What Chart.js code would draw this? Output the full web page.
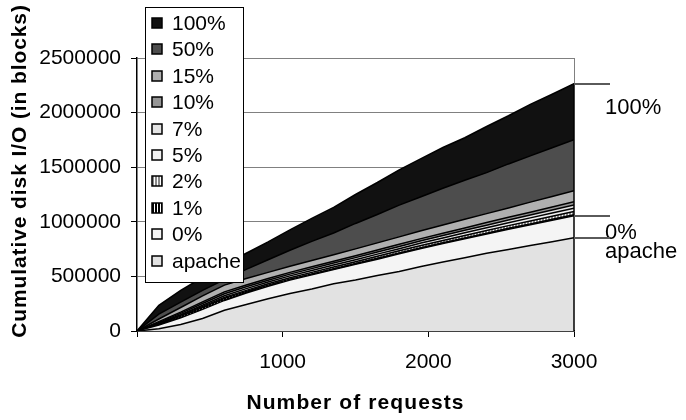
<!DOCTYPE html>
<html>
<head>
<meta charset="utf-8">
<script src="https://cdn.jsdelivr.net/npm/chart.js@4"></script>
<style>
  html, body { margin: 0; padding: 0; background: #fff; }
  canvas { display: block; }
</style>
</head>
<body>
<canvas id="c" width="686" height="420"></canvas>
<script>
// Number of requests served (x values)
const requests = [0,150,300,450,600,750,900,1050,1200,1350,1500,1650,1800,1950,2100,2250,2400,2550,2700,2850,3000];

// Cumulative disk I/O in blocks, one list per configuration
const io100 = [0,235000,372000,492000,605000,712000,816000,926000,1031000,1132000,1250000,1360000,1476000,1578000,1680000,1770000,1873000,1971000,2075000,2168000,2266000];
const io50 = [0,155000,265000,372000,470000,564000,653000,739000,821000,897000,985000,1067000,1153000,1230000,1307000,1381000,1450000,1530000,1604000,1678000,1752000];
const io15 = [0,110000,215000,322000,420000,480000,537000,593000,646000,699000,752000,807000,862000,918000,971000,1023000,1075000,1127000,1180000,1232000,1284000];
const io10 = [0,86000,173000,267000,358000,422000,481000,537000,588000,639000,690000,741000,794000,846000,896000,944000,993000,1041000,1088000,1136000,1183000];
const io7 = [0,79000,161000,252000,341000,405000,465000,521000,571000,622000,672000,723000,774000,826000,874000,922000,969000,1016000,1062000,1109000,1155000];
const io5 = [0,72000,149000,236000,323000,388000,449000,505000,554000,604000,653000,704000,754000,805000,852000,899000,945000,991000,1036000,1081000,1125000];
const io2 = [0,69000,144000,226000,308000,372000,432000,488000,537000,586000,634000,684000,734000,783000,829000,875000,920000,965000,1008000,1051000,1094000];
const io1 = [0,63000,134000,215000,297000,361000,420000,475000,522000,570000,618000,666000,715000,763000,808000,852000,896000,940000,981000,1023000,1064000];
const io0 = [0,55000,120000,198000,280000,348000,410000,466000,514000,562000,610000,658000,707000,755000,800000,844000,888000,931000,972000,1014000,1055000];
const ioApache = [0,20000,60000,115000,190000,242000,295000,344000,385000,432000,468000,509000,545000,591000,631000,670000,712000,746000,782000,817000,853000];

const seriesLabels = ['100%','50%','15%','10%','7%','5%','2%','1%','0%','apache'];
const seriesValues = [io100, io50, io15, io10, io7, io5, io2, io1, io0, ioApache];

// Y axis ticks
const yTicks = [0,500000,1000000,1500000,2000000,2500000];
// X axis ticks
const xTicks = [1000,2000,3000];

const FONT = '"Liberation Sans", Arial, Helvetica, sans-serif';

// vertical-stripe fill used for two of the series
function stripes(bg, fg) {
  const c = document.createElement('canvas');
  c.width = 3; c.height = 4;
  const g = c.getContext('2d');
  g.fillStyle = bg; g.fillRect(0, 0, 3, 4);
  g.fillStyle = fg; g.fillRect(1, 0, 1, 4);
  return g.createPattern(c, 'repeat');
}

const fills = [
  '#111111', '#4d4d4d', '#b0b0b0', '#969696', '#e4e4e4',
  '#f0f0f0', stripes('#8a8a8a', '#ffffff'), stripes('#000000', '#ffffff'),
  '#f4f4f4', '#e2e2e2'
];

const datasets = seriesLabels.map((label, i) => ({
  label,
  data: requests.map((r, k) => ({ x: r, y: seriesValues[i][k] })),
  backgroundColor: fills[i],
  borderColor: '#000',
  borderWidth: 1.5,
  fill: 'origin',
  pointRadius: 0,
  tension: 0,
  order: seriesLabels.length - 1 - i
}));

const decorations = {
  id: 'decorations',
  afterDatasetsDraw(chart) {
    const ctx = chart.ctx;
    const a = chart.chartArea;
    const ys = chart.scales.y;
    const yTop = ys.getPixelForValue(io100[io100.length - 1]);
    ctx.save();
    // right edge of the plot
    ctx.strokeStyle = '#808080'; ctx.lineWidth = 1;
    ctx.beginPath(); ctx.moveTo(a.right + 0.5, a.top); ctx.lineTo(a.right + 0.5, yTop); ctx.stroke();
    ctx.strokeStyle = '#000'; ctx.lineWidth = 1.5;
    ctx.beginPath(); ctx.moveTo(a.right, yTop); ctx.lineTo(a.right, a.bottom); ctx.stroke();

    // series callouts on the right
    const callouts = [
      { v: io100[io100.length - 1], text: '100%', dy: 24 },
      { v: io0[io0.length - 1], text: '0%', dy: 17 },
      { v: ioApache[ioApache.length - 1], text: 'apache', dy: 14 }
    ];
    ctx.strokeStyle = '#5a5a5a'; ctx.lineWidth = 2;
    ctx.fillStyle = '#000';
    ctx.font = '22px ' + FONT;
    ctx.textBaseline = 'middle'; ctx.textAlign = 'left';
    callouts.forEach(c => {
      const y = Math.round(ys.getPixelForValue(c.v));
      ctx.beginPath(); ctx.moveTo(a.right, y); ctx.lineTo(a.right + 36, y); ctx.stroke();
      ctx.fillText(c.text, a.right + 31, y + c.dy);
    });

    // legend box
    const lx = 145, ly = 7, lw = 99, lh = 276;
    ctx.fillStyle = '#fff'; ctx.fillRect(lx, ly, lw, lh);
    ctx.strokeStyle = '#000'; ctx.lineWidth = 1;
    ctx.strokeRect(lx + 0.5, ly + 0.5, lw - 1, lh - 1);
    chart.data.datasets.forEach((ds, i) => {
      const cy = Math.round(23 + i * 26.4);
      ctx.fillStyle = ds.backgroundColor;
      ctx.fillRect(152, cy - 5, 10, 10);
      ctx.strokeStyle = '#000'; ctx.lineWidth = 1.5;
      ctx.strokeRect(152, cy - 5, 10, 10);
      ctx.fillStyle = '#000';
      ctx.font = '21px ' + FONT;
      ctx.textBaseline = 'middle'; ctx.textAlign = 'left';
      ctx.fillText(ds.label, 172, cy + 1);
    });
    ctx.restore();
  },
  afterDraw(chart) {
    const ctx = chart.ctx;
    const a = chart.chartArea;
    ctx.save();
    ctx.fillStyle = '#000';
    ctx.font = 'bold 21px ' + FONT;
    ctx.textAlign = 'center'; ctx.textBaseline = 'middle';
    ctx.letterSpacing = '1.1px';
    ctx.fillText('Number of requests', (a.left + a.right) / 2, 403);
    ctx.letterSpacing = '0.9px';
    ctx.translate(20, 171);
    ctx.rotate(-Math.PI / 2);
    ctx.fillText('Cumulative disk I/O (in blocks)', 0, 0);
    ctx.restore();
  }
};

new Chart(document.getElementById('c'), {
  type: 'line',
  data: { datasets },
  plugins: [decorations],
  options: {
    responsive: false,
    animation: false,
    devicePixelRatio: 1,
    layout: { padding: { left: 0, top: 58, right: 112, bottom: 0 } },
    plugins: { legend: { display: false }, tooltip: { enabled: false } },
    scales: {
      x: {
        type: 'linear', min: 0, max: 3000,
        afterFit(s) { s.height = 89; },
        afterBuildTicks(s) { s.ticks = [0, ...xTicks].map(v => ({ value: v })); },
        ticks: {
          callback: v => (xTicks.includes(v) ? String(v) : ''),
          color: '#000', font: { size: 21, family: FONT }, padding: 13,
          maxRotation: 0, autoSkip: false
        },
        grid: { drawOnChartArea: false, drawTicks: true, tickLength: 6, tickColor: '#000' },
        border: { color: '#000', width: 1.5 }
      },
      y: {
        min: 0, max: 2500000,
        afterFit(s) { s.width = 137; },
        afterBuildTicks(s) { s.ticks = yTicks.map(v => ({ value: v })); },
        ticks: {
          callback: v => String(v),
          color: '#000', font: { size: 21, family: FONT }, padding: 10
        },
        grid: { color: '#808080', lineWidth: 1, tickLength: 6, tickColor: '#000' },
        border: { color: '#000', width: 1.5 }
      }
    }
  }
});
</script>
</body>
</html>
